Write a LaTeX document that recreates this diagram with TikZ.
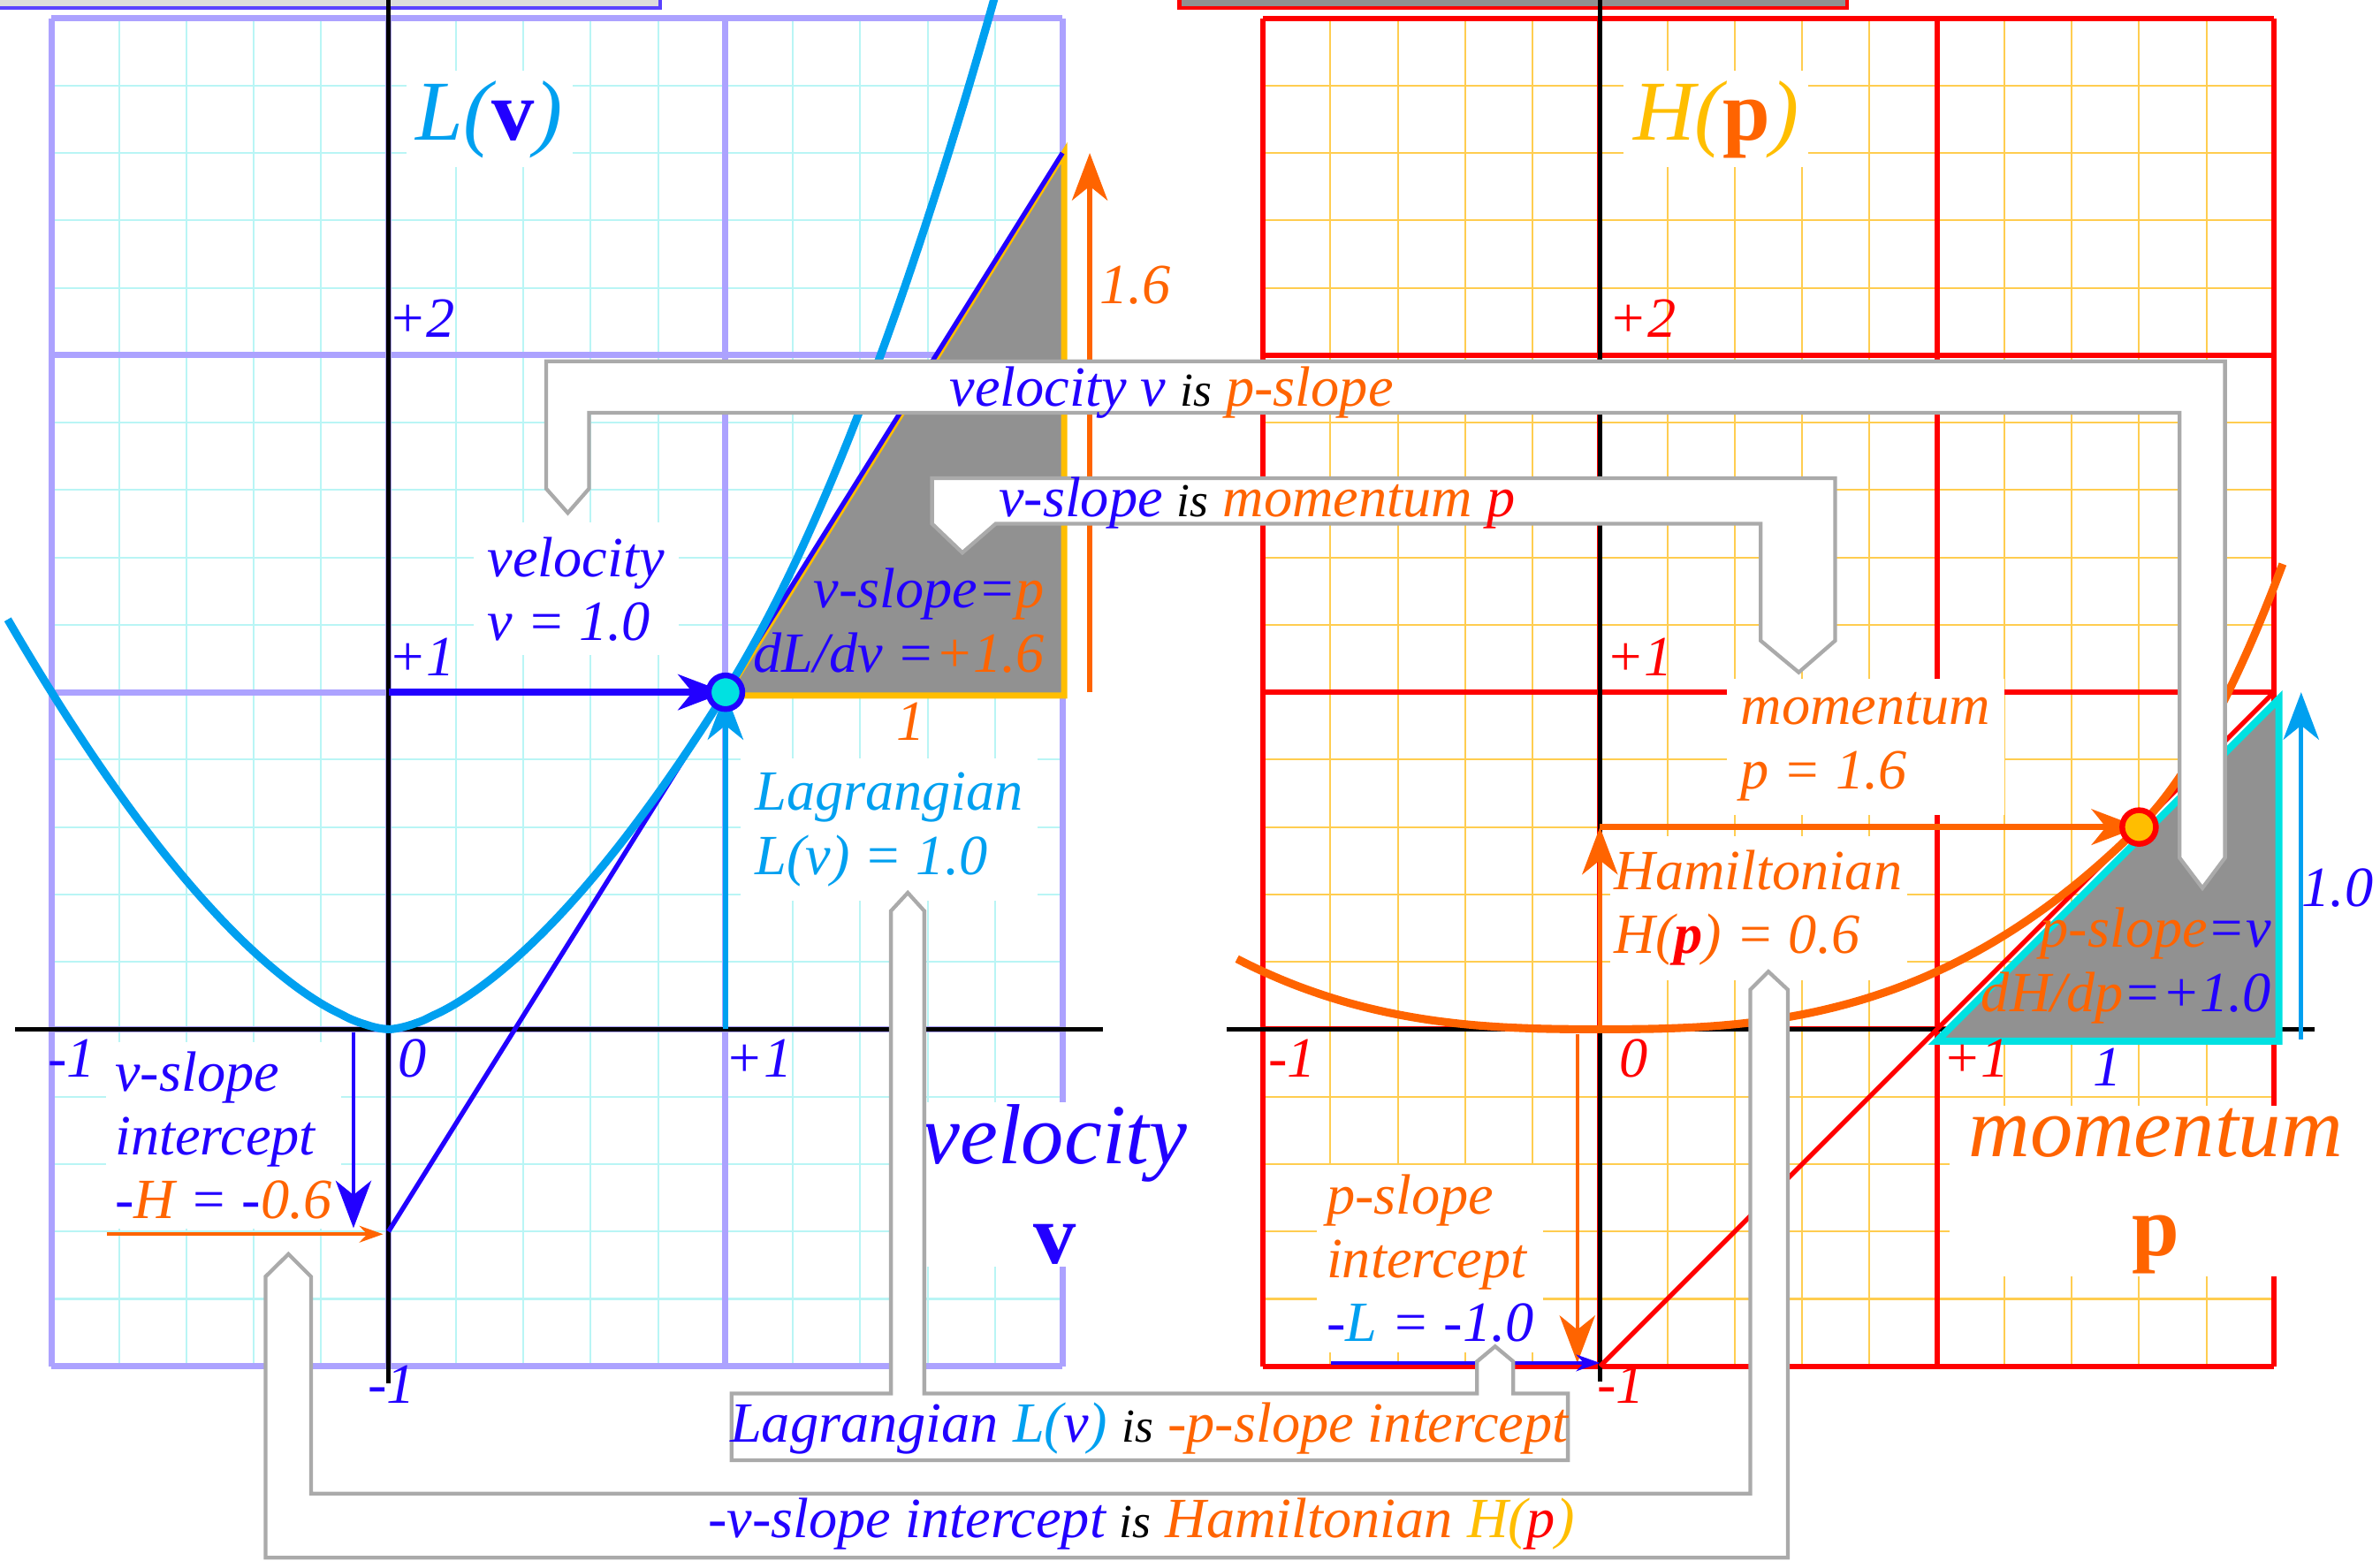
\documentclass[tikz,border=0pt]{standalone}
\usepackage{fontspec}
\setmainfont{Liberation Serif}
\usetikzlibrary{arrows.meta, positioning, calc}
\definecolor{vblue}{RGB}{34, 0, 255}
\definecolor{lblue}{RGB}{0, 160, 240}
\definecolor{porange}{RGB}{255, 100, 0}
\definecolor{hgold}{RGB}{255, 190, 0}
\definecolor{pred}{RGB}{255, 0, 0}
\definecolor{tcyan}{RGB}{0, 225, 225}
\definecolor{trigray}{RGB}{145, 145, 145}
\definecolor{gpurple}{RGB}{172, 162, 255}
\definecolor{gcyan}{RGB}{185, 245, 245}
\definecolor{ggold}{RGB}{255, 205, 80}
\definecolor{cgray}{RGB}{170, 170, 170}
\definecolor{boxgray}{RGB}{220, 220, 220}
\newcommand{\blackis}{{\color{black}\fontsize{10}{12}\selectfont is}}

\begin{document}
\begin{tikzpicture}[x=2.5cm, y=2.5cm,
    lab/.style={font=\fontsize{12}{13.5}\selectfont\itshape, inner sep=3pt},
    knock/.style={lab, fill=white},
    biglab/.style={font=\fontsize{18}{21}\selectfont\itshape, fill=white, inner xsep=4pt, inner ysep=0.5pt},
    num/.style={font=\fontsize{12}{14}\selectfont\itshape, inner sep=1pt},
    ptdot/.style={circle, minimum size=2.5mm, inner sep=0pt, line width=1.2pt},
    cbox/.style={draw=cgray, fill=white, line width=0.8pt},
    bigtip/.style={-{Stealth[length=10pt, width=7.5pt, inset=3pt]}},
    smalltip/.style={-{Stealth[length=5pt, width=3.5pt]}}]
    \useasboundingbox (-1.153,-1.577) rectangle (5.910,3.054);

    % cut-off boxes at the top
    \filldraw[fill=boxgray, draw=vblue!60!gpurple, line width=0.8pt] (-1.2,3.03) rectangle (0.806,3.2);
    \filldraw[fill=trigray, draw=pred, line width=0.8pt] (2.347,3.03) rectangle (4.329,3.2);

    %%% Lagrangian side
    \draw[gcyan, line width=0.4pt, step=0.2] (-1,-1) grid (2,3);
    \draw[gpurple, line width=1.3pt, step=1] (-1,-1) grid (2,3);
    \draw[black, line width=0.9pt] (-1.108,0) -- (2.12,0);
    \draw[black, line width=0.9pt] (0,3.054) -- (0,-1.05);

    % slope triangle and tangent
    \filldraw[fill=trigray, draw=hgold, line width=1.3pt] (1,0.99) -- (2.005,0.99) -- (2.005,2.6) -- cycle;
    \draw[vblue, line width=1pt] (0,-0.6) -- (2,2.6);

    % L(v) curve
    \draw[lblue, line width=1.7pt, domain=-1.13:1.81, samples=120, smooth]
        plot (\x, {(abs(\x)+0.0001)^1.6 + 0.79*(max(0,\x-1))^2});

    % numbers
    \foreach \pos/\txt/\nm in {{0.099,2.108}/+2/vn2, {0.099,1.104}/+1/vn1, {-0.941,-0.086}/-1/vnm, {0.072,-0.086}/0/vn0, {1.099,-0.086}/+1/vnp, {0.009,-1.054}/-1/vnb}
        \node[num, text=vblue] (\nm) at (\pos) {\txt};
    \node[num, text=porange] (sixlab) at (2.216,2.207) {1.6};
    \node[num, text=porange] (runv) at (1.55,0.914) {1};

    % labels
    \node[knock, text=lblue, font=\fontsize{18}{21}\selectfont\itshape, inner sep=2pt] (Ltitle) at (0.30,2.70) {L(\textcolor{vblue}{\upshape\bfseries v})};
    \node[knock, text=vblue, align=left] (vlab) at (0.556,1.306) {velocity\\v = 1.0};
    \node[lab, text=vblue, align=right, anchor=east, inner sep=0pt] (vslope) at (1.95,1.212) {v-slope=\textcolor{porange}{p}\\dL/dv =\textcolor{porange}{+1.6}};
    \node[knock, text=lblue, align=left] (Llab) at (1.486,0.592) {Lagrangian\\L(v) = 1.0};
    \node[knock, text=vblue, align=left, anchor=west, inner sep=2pt] (Hint) at (-0.842,-0.315) {v-slope\\intercept\\-\textcolor{porange}{H} = -\textcolor{porange}{0.6}};
    \node[biglab, text=vblue, align=center] (vaxis) at (1.977,-0.46) {velocity\\{\upshape\bfseries v}};

    % arrows
    \coordinate (vO1) at (0,1);
    \coordinate (vA0) at (1,0);
    \coordinate (vpt) at (1,1);
    \draw[vblue, line width=1.4pt, bigtip] (vO1) -- (vpt);
    \draw[lblue, line width=1.1pt, bigtip] (vA0) -- (vpt);
    \node[ptdot, fill=tcyan, draw=vblue] (vdot) at (vpt) {};
    \coordinate (slopeB) at (2.081,1.0);
    \coordinate (slopeT) at (2.081,2.6);
    \draw[porange, line width=1pt, bigtip] (slopeB) -- (slopeT);
    \coordinate (hdnA) at (-0.104,-0.01);
    \coordinate (hdnB) at (-0.104,-0.59);
    \draw[vblue, line width=0.8pt, bigtip] (hdnA) -- (hdnB);
    \coordinate (hinA) at (-0.835,-0.608);
    \coordinate (hinB) at (-0.016,-0.608);
    \draw[porange, line width=0.8pt, smalltip] (hinA) -- (hinB);

    %%% Hamiltonian side
    \begin{scope}[shift={(3.595,0)}]
        \draw[ggold, line width=0.4pt, step=0.2] (-1,-1) grid (2,3);
        \draw[pred, line width=1.1pt, step=1] (-1,-1) grid (2,3);
        \draw[black, line width=0.9pt] (-1.108,0) -- (2.12,0);
        \draw[black, line width=0.9pt] (0,3.054) -- (0,-1.045);

        % slope triangle and tangent
        \filldraw[fill=trigray, draw=tcyan, line width=1.5pt] (1,-0.035) -- (2.015,-0.035) -- (2.015,0.98) -- cycle;
        \draw[pred, line width=1pt] (0,-1) -- (2,1);

        % H(p) curve
        \draw[porange, line width=1.7pt, domain=-1.077:2.027, samples=120, smooth]
            plot (\x, {0.6*((abs(\x)+0.0001)/1.6)^2.6667 + 1.4*(max(0,\x-1.6))^2});

        % numbers
        \foreach \pos/\txt/\nm in {{0.126,2.108}/+2/pn2, {0.117,1.104}/+1/pn1, {-0.914,-0.086}/-1/pnm, {0.099,-0.086}/0/pn0, {1.117,-0.086}/+1/pnp, {0.063,-1.054}/-1/pnb}
            \node[num, text=pred] (\nm) at (\pos) {\txt};
        \node[num, text=vblue] (onelab) at (2.189,0.419) {1.0};
        \node[num, text=vblue] (runp) at (1.505,-0.112) {1};

        % labels
        \node[knock, text=hgold, font=\fontsize{18}{21}\selectfont\itshape, inner sep=2pt] (Htitle) at (0.345,2.70) {H(\textcolor{porange}{\upshape\bfseries p})};
        \node[knock, text=porange, align=left] (plab) at (0.788,0.838) {momentum\\p = 1.6};
        \node[knock, text=porange, align=left, inner xsep=1pt] (Hlab) at (0.47,0.36) {Hamiltonian\\H(\textcolor{pred}{\bfseries p}) = 0.6};
        \node[lab, text=porange, align=right, anchor=east, inner sep=0pt] (pslope) at (1.995,0.189) {p-slope\textcolor{vblue}{=v}\\dH/dp\textcolor{vblue}{=+1.0}};
        \node[knock, text=porange, align=left, anchor=west, inner sep=2pt] (Lint) at (-0.842,-0.68) {p-slope\\intercept\\\textcolor{vblue}{-}\textcolor{lblue}{L} \textcolor{vblue}{= -1.0}};
        \node[biglab, text=porange, align=center] (paxis) at (1.649,-0.48) {momentum\\{\upshape\bfseries p}};

        % arrows
        \coordinate (pO) at (0,0);
        \coordinate (pH) at (0,0.6);
        \coordinate (ppt) at (1.6,0.6);
        \draw[porange, line width=1pt, bigtip] (pO) -- (pH);
        \draw[porange, line width=1.4pt, bigtip] (pH) -- (ppt);
        \node[ptdot, fill=hgold, draw=pred] (pdot) at (ppt) {};
        \coordinate (oneB) at (2.081,-0.03);
        \coordinate (oneT) at (2.081,1.0);
        \draw[lblue, line width=1pt, bigtip] (oneB) -- (oneT);
        \coordinate (ldnA) at (-0.067,-0.015);
        \coordinate (ldnB) at (-0.067,-0.99);
        \draw[porange, line width=0.8pt, bigtip] (ldnA) -- (ldnB);
        \coordinate (linA) at (-0.797,-0.99);
        \coordinate (linB) at (0,-0.99);
        \draw[vblue, line width=0.8pt, smalltip] (linA) -- (linB);
    \end{scope}

    %%% correspondence callouts
    \filldraw[cbox] (0.468,1.982) -- (5.450,1.982) -- (5.450,0.509) -- (5.383,0.419) -- (5.315,0.509)
        -- (5.315,1.829) -- (0.595,1.829) -- (0.595,1.604) -- (0.532,1.532) -- (0.468,1.604) -- cycle;
    \filldraw[cbox] (1.613,1.635) -- (4.293,1.635) -- (4.293,1.153) -- (4.185,1.059) -- (4.072,1.153)
        -- (4.072,1.5) -- (1.802,1.5) -- (1.703,1.414) -- (1.613,1.5) -- cycle;
    \filldraw[cbox] (1.018,-1.081) -- (1.491,-1.081) -- (1.491,0.351) -- (1.541,0.405) -- (1.590,0.351)
        -- (1.590,-1.081) -- (3.230,-1.081) -- (3.230,-0.986) -- (3.284,-0.941) -- (3.338,-0.986)
        -- (3.338,-1.081) -- (3.5,-1.081) -- (3.5,-1.279) -- (1.018,-1.279) -- cycle;
    \filldraw[cbox] (-0.365,-0.734) -- (-0.297,-0.667) -- (-0.230,-0.734) -- (-0.230,-1.378)
        -- (4.041,-1.378) -- (4.041,0.117) -- (4.095,0.171) -- (4.153,0.117) -- (4.153,-1.568)
        -- (-0.365,-1.568) -- cycle;

    \node[lab, text=vblue] (ctA) at (2.324,1.89) {velocity v \blackis{} \textcolor{porange}{p-slope}};
    \node[lab, text=vblue] (ctB) at (2.577,1.562) {v-slope \blackis{} \textcolor{porange}{momentum} \textcolor{pred}{p}};
    \node[lab, text=vblue] (ctC) at (2.257,-1.184) {Lagrangian \textcolor{lblue}{L(}v\textcolor{lblue}{)} \blackis{} \textcolor{porange}{-p-slope intercept}};
    \node[lab, text=vblue] (ctD) at (2.234,-1.468) {-v-slope intercept \blackis{} \textcolor{porange}{Hamiltonian} \textcolor{hgold}{H(}\textcolor{pred}{p}\textcolor{hgold}{)}};
\end{tikzpicture}
\end{document}
